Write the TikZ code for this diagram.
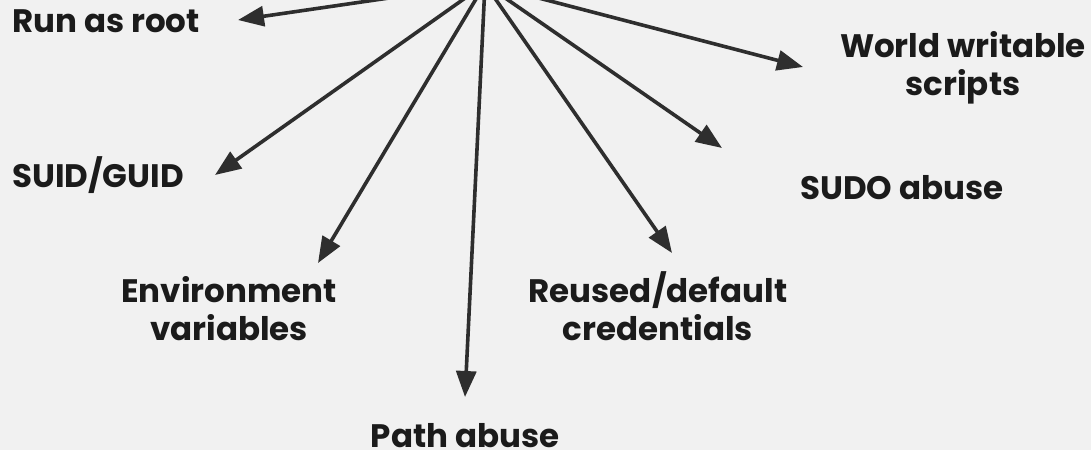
\documentclass[tikz,border=0pt]{standalone}
\usepackage{fontspec}
\setmainfont{Poppins}
\usepackage{tikz}
\usetikzlibrary{arrows.meta}
\definecolor{paper}{HTML}{F1F1F1}
\definecolor{ink}{HTML}{1B1B1B}
\definecolor{shaft}{HTML}{2E2E2E}
\newcommand{\arw}{-{Triangle[length=26pt,width=20pt]}}
\tikzset{
  vector/.style={draw=shaft,line width=3.6pt,\arw},
  leaf/.style={text=ink,font=\fontsize{32.5}{38}\selectfont\bfseries,align=center,inner sep=0pt}
}

\begin{document}
\begin{tikzpicture}[x=1pt,y=-1pt]
\fill[paper] (0,0) rectangle (1091,450);
\useasboundingbox (0,0) rectangle (1091,450);
\clip (0,0) rectangle (1091,450);
\coordinate (hub) at (485,-16);
%left branches
\node[leaf,anchor=base] (root) at (106,32) {Run as root};
\node[leaf,anchor=base] (suid) at (98,187) {SUID/GUID};
\node[leaf,anchor=base] (env) at (229,340) {Environment\\variables};
\node[leaf,anchor=base] (path) at (465,447) {Path abuse};
%right branches
\node[leaf,anchor=base] (reused) at (658,340) {Reused/default\\credentials};
\node[leaf,anchor=base] (sudo) at (902,199) {SUDO abuse};
\node[leaf,anchor=base] (world) at (963,95) {World writable\\scripts};
%arrow tips
\coordinate (tipRoot) at (238,20);
\coordinate (tipSuid) at (215,175);
\coordinate (tipEnv) at (318,263);
\coordinate (tipPath) at (465,397);
\coordinate (tipReused) at (672,253);
\coordinate (tipSudo) at (722,148);
\coordinate (tipWorld) at (803,67);
\draw[vector] (hub) -- (tipRoot);
\draw[vector] (hub) -- (tipSuid);
\draw[vector] (hub) -- (tipEnv);
\draw[vector] (hub) -- (tipPath);
\draw[vector] (hub) -- (tipReused);
\draw[vector] (hub) -- (tipSudo);
\draw[vector] (hub) -- (tipWorld);
\end{tikzpicture}
\end{document}
